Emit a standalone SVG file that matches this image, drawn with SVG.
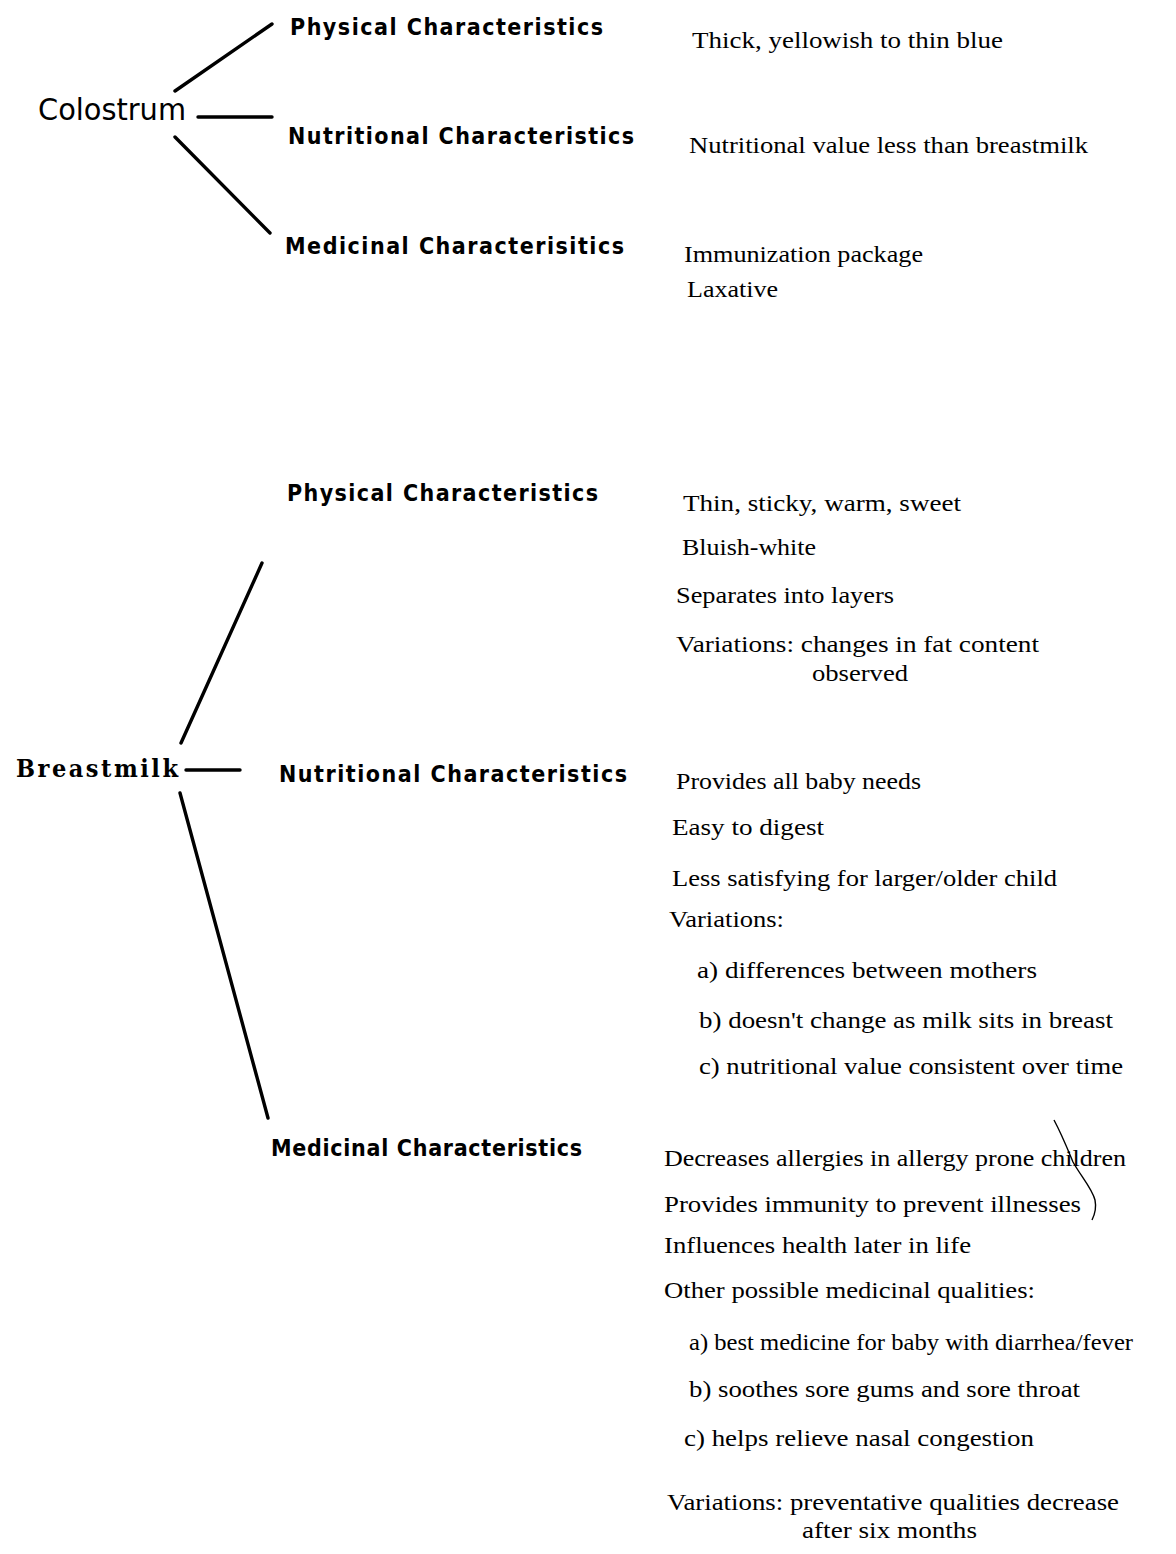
<svg xmlns="http://www.w3.org/2000/svg" width="1176" height="1554" viewBox="0 0 1176 1554">
<style>
.root{font-family:"DejaVu Sans","Liberation Sans",sans-serif;font-stretch:condensed;font-size:30px;fill:#000}
.rootb{font-family:"DejaVu Serif","Liberation Serif",serif;font-stretch:condensed;font-weight:bold;font-size:25px;fill:#000}
.hd{font-family:"DejaVu Sans","Liberation Sans",sans-serif;font-stretch:condensed;font-weight:bold;font-size:23px;fill:#000}
.it{font-family:"Liberation Serif","Times New Roman",serif;font-size:24px;fill:#000}
.ln{stroke:#000;stroke-width:3.4;stroke-linecap:round;fill:none}
.thin{stroke:#000;stroke-width:1.4;fill:none}
</style>
<rect width="1176" height="1554" fill="#fff"/>

<g id="connectors">
<line class="ln" x1="175" y1="91" x2="272" y2="24"/>
<line class="ln" x1="198" y1="117" x2="272" y2="117"/>
<line class="ln" x1="175" y1="137" x2="270" y2="233"/>
<line class="ln" x1="181" y1="743" x2="262" y2="563"/>
<line class="ln" x1="186" y1="770" x2="240" y2="770"/>
<line class="ln" x1="180" y1="793" x2="268" y2="1118"/>
<path class="thin" d="M1054,1120 C1062,1135 1068,1150 1073,1162 C1080,1175 1092,1188 1095,1200 C1097,1210 1094,1216 1092,1220"/>
</g>

<g id="colostrum"><text class="root" x="38" y="120" textLength="148" lengthAdjust="spacingAndGlyphs">Colostrum</text></g>
<g id="c-physical"><text class="hd" x="290" y="35" textLength="313" lengthAdjust="spacing">Physical  Characteristics</text></g>
<g id="c-nutritional"><text class="hd" x="288" y="144" textLength="346" lengthAdjust="spacing">Nutritional  Characteristics</text></g>
<g id="c-medicinal"><text class="hd" x="285" y="254" textLength="339" lengthAdjust="spacing">Medicinal  Characterisitics</text></g>

<g id="c-physical-items"><text class="it" x="692" y="48" textLength="311" lengthAdjust="spacingAndGlyphs">Thick, yellowish to thin blue</text></g>
<g id="c-nutritional-items"><text class="it" x="689" y="153" textLength="399" lengthAdjust="spacingAndGlyphs">Nutritional value less than breastmilk</text></g>
<g id="c-medicinal-items">
<text class="it" x="684" y="262" textLength="239" lengthAdjust="spacingAndGlyphs">Immunization package</text>
<text class="it" x="687" y="297" textLength="91" lengthAdjust="spacingAndGlyphs">Laxative</text>
</g>

<g id="breastmilk"><text class="rootb" x="16" y="777" textLength="162" lengthAdjust="spacing">Breastmilk</text></g>
<g id="b-physical"><text class="hd" x="287" y="501" textLength="311" lengthAdjust="spacing">Physical  Characteristics</text></g>
<g id="b-nutritional"><text class="hd" x="279" y="782" textLength="348" lengthAdjust="spacing">Nutritional  Characteristics</text></g>
<g id="b-medicinal"><text class="hd" x="271" y="1156" textLength="311" lengthAdjust="spacing">Medicinal  Characteristics</text></g>

<g id="b-physical-items">
<text class="it" x="683" y="511" textLength="278" lengthAdjust="spacingAndGlyphs">Thin, sticky, warm, sweet</text>
<text class="it" x="682" y="555" textLength="134" lengthAdjust="spacingAndGlyphs">Bluish-white</text>
<text class="it" x="676" y="603" textLength="218" lengthAdjust="spacingAndGlyphs">Separates into layers</text>
<text class="it" x="676" y="652" textLength="363" lengthAdjust="spacingAndGlyphs">Variations:  changes in fat content</text>
<text class="it" x="812" y="681" textLength="96" lengthAdjust="spacingAndGlyphs">observed</text>
</g>

<g id="b-nutritional-items">
<text class="it" x="676" y="789" textLength="245" lengthAdjust="spacingAndGlyphs">Provides all baby needs</text>
<text class="it" x="672" y="835" textLength="152" lengthAdjust="spacingAndGlyphs">Easy to digest</text>
<text class="it" x="672" y="886" textLength="385" lengthAdjust="spacingAndGlyphs">Less satisfying for larger/older child</text>
<text class="it" x="669" y="927" textLength="115" lengthAdjust="spacingAndGlyphs">Variations:</text>
<text class="it" x="697" y="978" textLength="340" lengthAdjust="spacingAndGlyphs">a)  differences between mothers</text>
<text class="it" x="699" y="1028" textLength="414" lengthAdjust="spacingAndGlyphs">b) doesn't change as milk sits in breast</text>
<text class="it" x="699" y="1074" textLength="424" lengthAdjust="spacingAndGlyphs">c) nutritional value consistent over time</text>
</g>

<g id="b-medicinal-items">
<text class="it" x="664" y="1166" textLength="462" lengthAdjust="spacingAndGlyphs">Decreases allergies in allergy prone children</text>
<text class="it" x="664" y="1212" textLength="417" lengthAdjust="spacingAndGlyphs">Provides immunity to prevent illnesses</text>
<text class="it" x="664" y="1253" textLength="307" lengthAdjust="spacingAndGlyphs">Influences health later in life</text>
<text class="it" x="664" y="1298" textLength="371" lengthAdjust="spacingAndGlyphs">Other possible medicinal qualities:</text>
<text class="it" x="689" y="1350" textLength="444" lengthAdjust="spacingAndGlyphs">a) best medicine for baby with diarrhea/fever</text>
<text class="it" x="689" y="1397" textLength="391" lengthAdjust="spacingAndGlyphs">b) soothes sore gums and sore throat</text>
<text class="it" x="684" y="1446" textLength="350" lengthAdjust="spacingAndGlyphs">c) helps relieve nasal congestion</text>
<text class="it" x="667" y="1510" textLength="452" lengthAdjust="spacingAndGlyphs">Variations:  preventative qualities decrease</text>
<text class="it" x="802" y="1538" textLength="175" lengthAdjust="spacingAndGlyphs">after six months</text>
</g>
</svg>
